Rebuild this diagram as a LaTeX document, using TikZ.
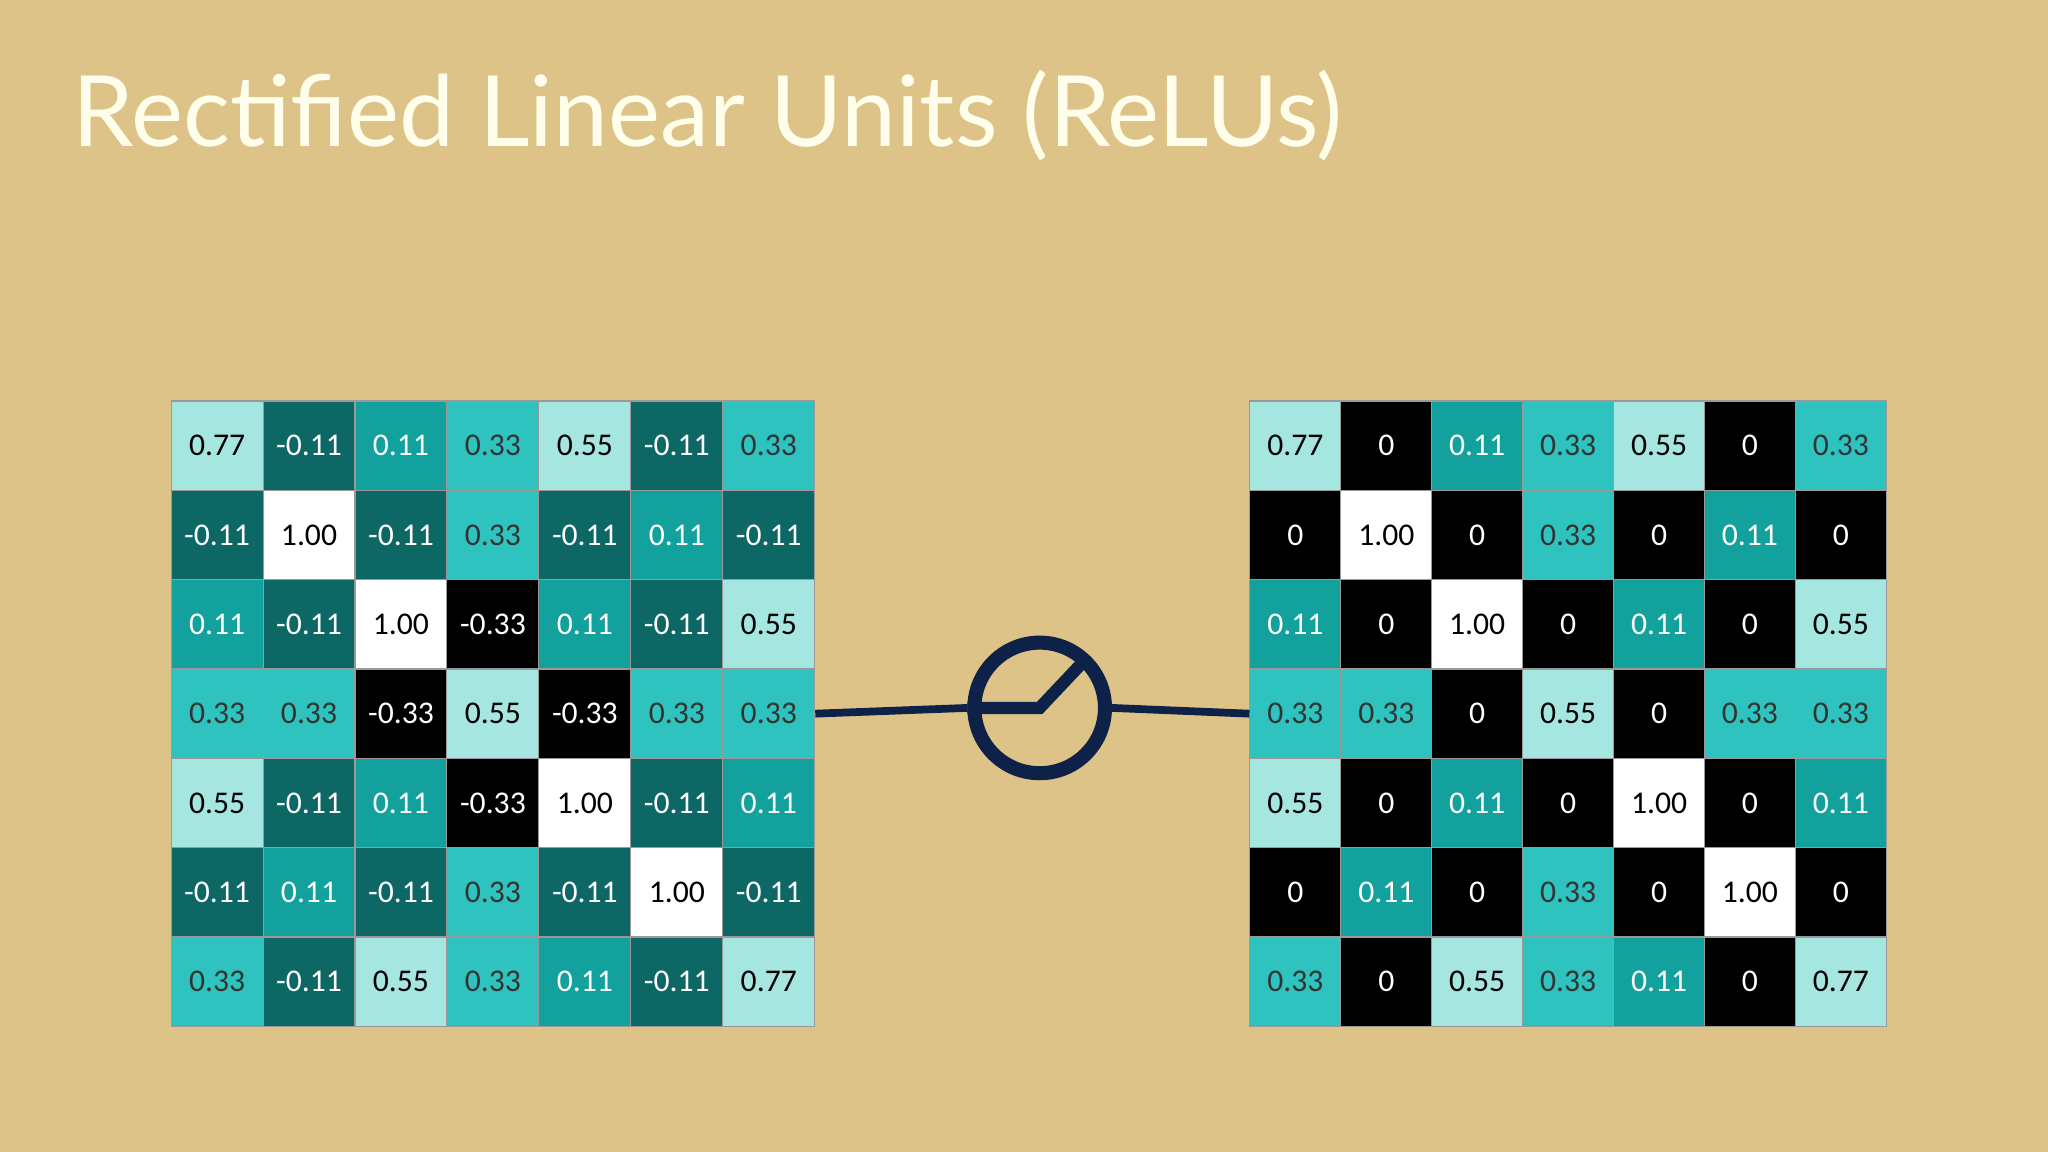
\documentclass[tikz,border=0pt]{standalone}
\usepackage{fontspec}
\setmainfont{Carlito}
\newfontfamily\titlefont{Lato}
\definecolor{bg}{HTML}{DDC388}
\definecolor{light}{HTML}{A6E6E1}
\definecolor{mid}{HTML}{2EC3BE}
\definecolor{teal}{HTML}{12A19C}
\definecolor{dark}{HTML}{0D6764}
\definecolor{navy}{HTML}{0E2148}
\tikzset{
  cell/.style={draw=black!40,line width=0.3pt,minimum width=70.4*0.013061cm,minimum height=68.4*0.013061cm,inner sep=0pt,font=\fontsize{9}{10}\selectfont},
  cell 0.77/.style={fill=light,text=black},
  cell 0.55/.style={fill=light,text=black},
  cell 0.33/.style={fill=mid,text=black!80},
  cell 0.11/.style={fill=teal,text=white},
  cell -0.11/.style={fill=dark,text=white},
  cell -0.33/.style={fill=black,text=white},
  cell 0/.style={fill=black,text=white},
  cell 1.00/.style={fill=white,text=black},
  conn/.style={navy,line width=2.2pt},
}
\begin{document}
\begin{tikzpicture}[x=0.013061cm,y=-0.013061cm]
\fill[bg] (0,0) rectangle (1568,882);
\useasboundingbox (0,0) rectangle (1568,882);
\node[anchor=base west,text=white!92!yellow,font=\titlefont\fontsize{28}{32}\selectfont,inner sep=0pt] (title) at (55,112) {Rectified Linear Units (ReLUs)};
\foreach \row [count=\r] in {{0.77,-0.11,0.11,0.33,0.55,-0.11,0.33},{-0.11,1.00,-0.11,0.33,-0.11,0.11,-0.11},{0.11,-0.11,1.00,-0.33,0.11,-0.11,0.55},{0.33,0.33,-0.33,0.55,-0.33,0.33,0.33},{0.55,-0.11,0.11,-0.33,1.00,-0.11,0.11},{-0.11,0.11,-0.11,0.33,-0.11,1.00,-0.11},{0.33,-0.11,0.55,0.33,0.11,-0.11,0.77}}{
  \foreach \v [count=\c] in \row {
    \node[cell,cell \v] (L-\r-\c) at ({131+70.4*(\c-0.5)},{307+68.4*(\r-0.5)}) {\v};
  }
}
\foreach \row [count=\r] in {{0.77,0,0.11,0.33,0.55,0,0.33},{0,1.00,0,0.33,0,0.11,0},{0.11,0,1.00,0,0.11,0,0.55},{0.33,0.33,0,0.55,0,0.33,0.33},{0.55,0,0.11,0,1.00,0,0.11},{0,0.11,0,0.33,0,1.00,0},{0.33,0,0.55,0.33,0.11,0,0.77}}{
  \foreach \v [count=\c] in \row {
    \node[cell,minimum width=69.6*0.013061cm,cell \v] (R-\r-\c) at ({957+69.6*(\c-0.5)},{307+68.4*(\r-0.5)}) {\v};
  }
}
\node[draw=navy,line width=4pt,circle,minimum size=100*0.013061cm,inner sep=0pt] (relu) at (796,542) {};
\draw[conn] (L-4-7.east) -- (relu.west);
\draw[conn] (relu.east) -- (R-4-1.west);
\coordinate (k) at (796,542);
\draw[navy,line width=3.5pt] (relu.west) -- (k) -- (830,506);
\end{tikzpicture}
\end{document}
